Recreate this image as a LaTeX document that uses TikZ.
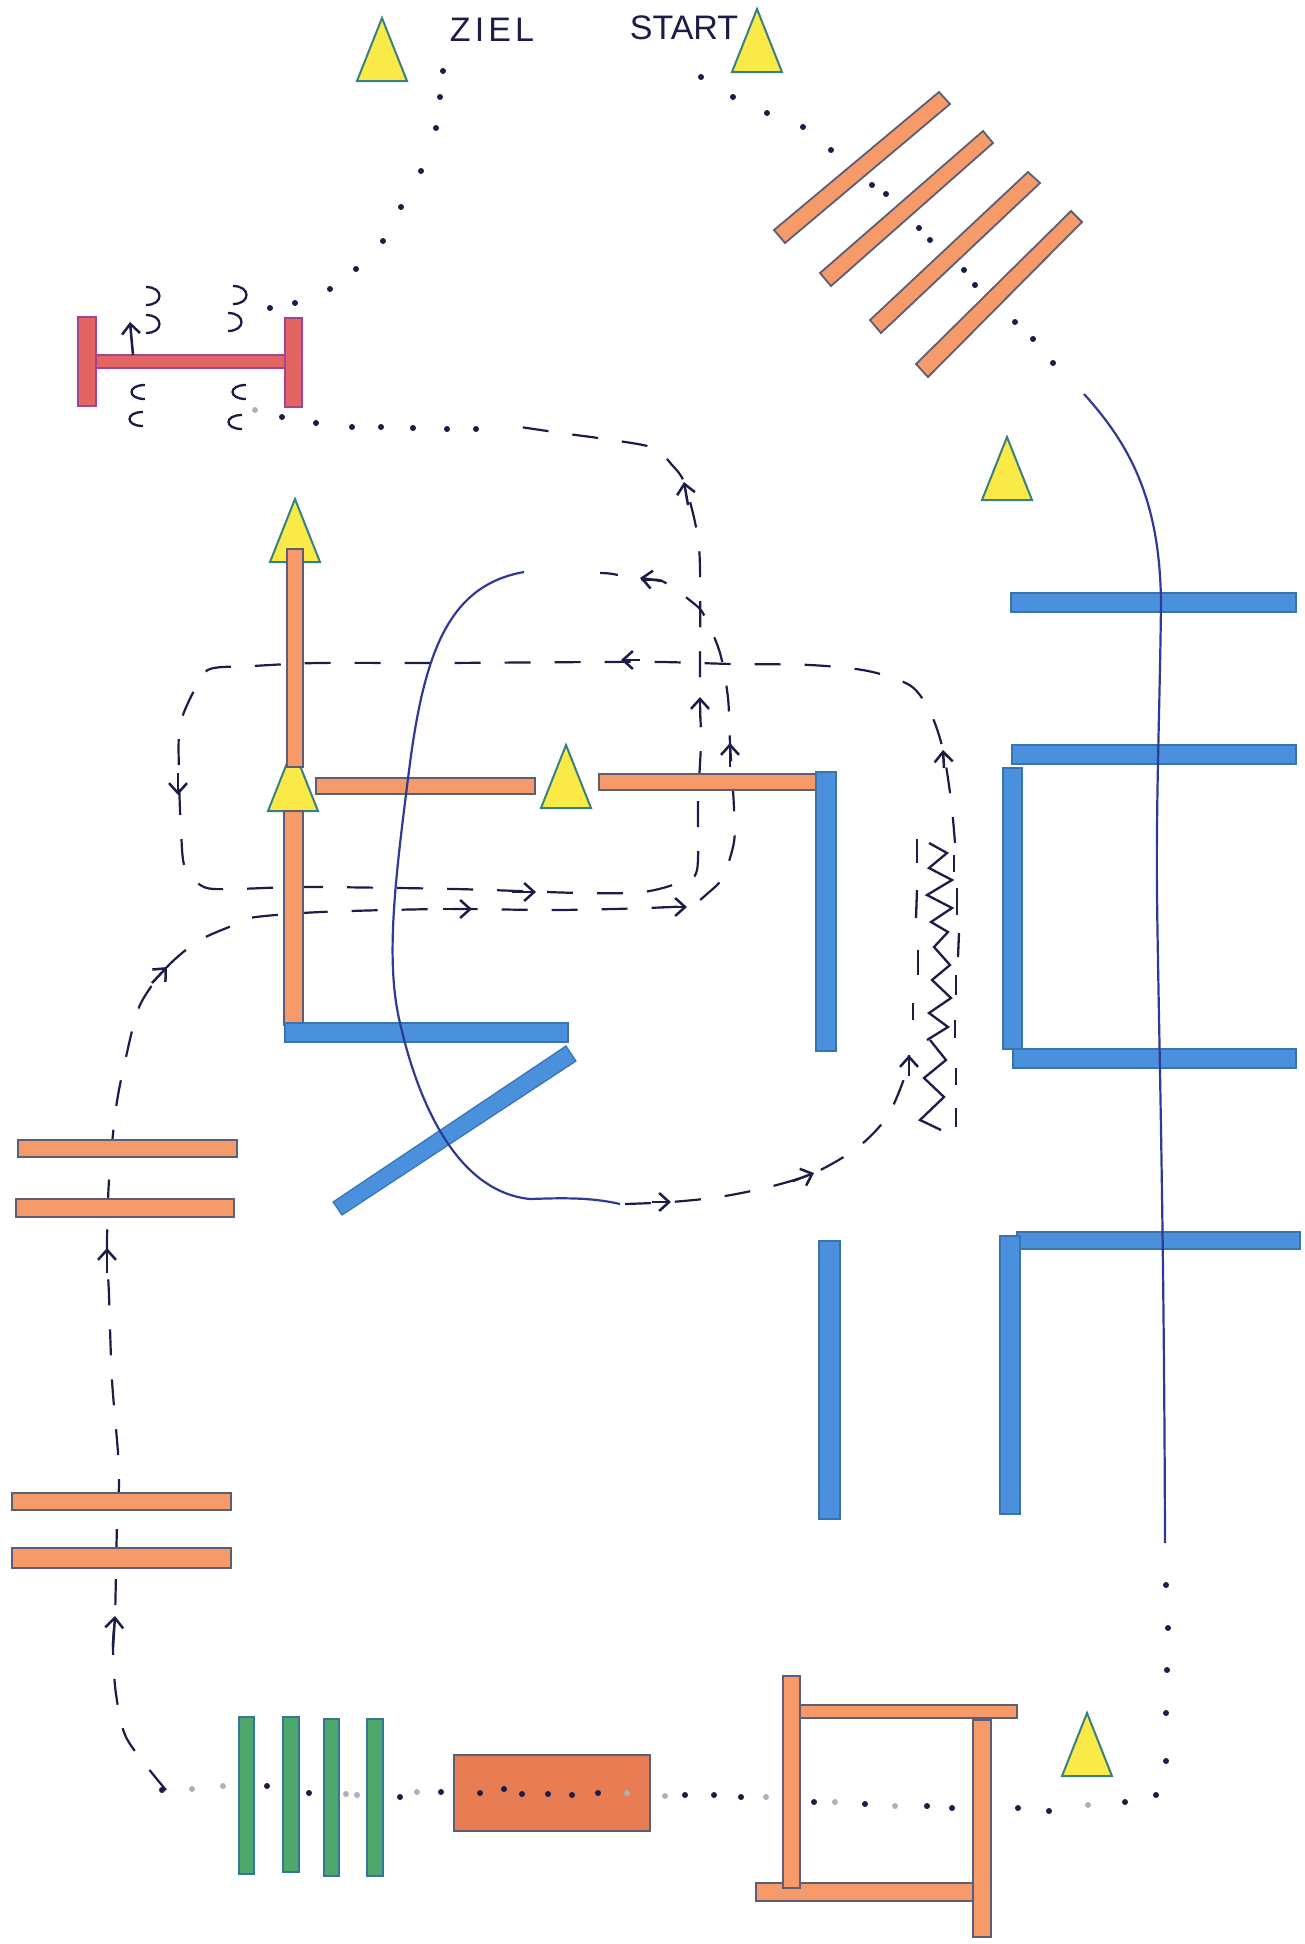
\documentclass[tikz,border=0pt]{standalone}
\usepackage{fontspec}
\usetikzlibrary{arrows.meta}
\newfontfamily\pencilfont{Liberation Sans}
\newfontfamily\pencilwide[LetterSpace=12]{Liberation Sans}
\definecolor{inkblue}{RGB}{28,28,72}
\definecolor{lineblue}{RGB}{48,58,150}
\definecolor{bargray}{RGB}{92,94,118}
\definecolor{barorange}{RGB}{245,154,104}
\definecolor{barblue}{RGB}{74,144,220}
\definecolor{bargreen}{RGB}{78,168,108}
\definecolor{barred}{RGB}{228,100,100}
\definecolor{boxorange}{RGB}{232,124,82}
\definecolor{coneyellow}{RGB}{249,234,72}
\tikzset{
    orangebar/.style={draw=bargray,line width=.9pt,fill=barorange},
    bluebar/.style={draw=barblue!80!black,line width=.6pt,fill=barblue},
    greenbar/.style={draw=bargreen!70!blue,line width=.8pt,fill=bargreen},
    redbar/.style={draw=barred!70!blue,line width=.6pt,fill=barred},
    cone/.style={draw=teal!55!gray,line width=1pt,fill=coneyellow},
    route/.style={inkblue,line width=1.1pt,dash pattern=on 13pt off 12pt},
    tick/.style={inkblue,line width=1.15pt},
    pointer/.style={inkblue,line width=1.25pt,->},
    solidline/.style={lineblue,line width=1.1pt},
    label/.style={text=inkblue,inner sep=0pt}
}
\begin{document}
\begin{tikzpicture}[x=.5pt,y=-.5pt,>={Straight Barb[length=5pt,width=9pt]}]
        \useasboundingbox (0,0) rectangle (1305,1944);

        % dashed routes
        \draw[route] plot[smooth] coordinates {(166,1790) (127,1739) (116,1694) (113,1647) (115,1616) (116,1573) (117,1524) (119,1469) (112,1380) (109,1295) (107,1248) (109,1180) (116,1108) (126,1057) (140,1005) (167,967) (200,940) (242,922) (256,917) (321,912) (443,909) (555,910) (646,908) (690,905) (708,893) (723,877) (734,842) (734,808) (730,743) (728,698) (720,653) (704,615) (692,602) (662,581) (640,580) (613,574) (600,573)};
        \draw[route] plot[smooth] coordinates {(955,843) (951,800) (943,750) (931,714) (911,686) (868,671) (810,665) (733,664) (662,662) (597,662) (440,663) (318,663) (253,666) (210,669) (196,687) (180,725) (179,775) (181,830) (185,868) (204,887) (234,889) (306,887) (455,889) (581,893) (643,892) (681,882) (697,870) (698,802) (701,742) (700,697) (700,568) (696,527) (684,482) (672,465) (654,448) (612,440) (561,433) (507,425)};
        \draw[route] plot[smooth] coordinates {(625,1204) (671,1202) (719,1197) (769,1187) (814,1173) (857,1148) (887,1117) (905,1076) (909,1055)};
        \foreach \xa/\ya/\xb/\yb in {917/839/917/863,917/890/916/918,918/950/918/975,913/1003/913/1020,954/855/954/872,957/888/957/915,959/933/958/957,956/975/956/995,955/1020/955/1038,956/1068/956/1085,956/1108/956/1127}
            \draw[tick] (\xa,\ya) -- (\xb,\yb);
        \draw[tick] plot coordinates {(929,843) (947,853) (929,868) (952,880) (927,895) (952,908) (931,922) (948,932) (934,947) (950,965) (932,980) (951,998) (929,1013) (948,1027) (927,1040)};
        \draw[tick] plot coordinates {(930,1040) (946,1060) (924,1078) (944,1097) (920,1120) (941,1130)};

        % stitches at the lifting bar
        \foreach \x/\y in {154/296,154/324,241/295,236/322}
            \draw[tick] (\x-8,\y-9) .. controls (\x+10,\y-9) and (\x+10,\y+9) .. (\x-8,\y+9);
        \foreach \x/\y in {137/392,135/419,238/392,234/422}
            \draw[tick] (\x+8,\y-7) .. controls (\x-10,\y-7) and (\x-10,\y+7) .. (\x+8,\y+7);

        % cones
        \foreach \x/\y in {382/81,757/72,1007/500,295/562,293/811,566/808,1087/1776}
            \draw[cone] (\x-25,\y) -- (\x,\y-63) -- (\x+25,\y) -- cycle;

        % bars
        \foreach \xa/\ya/\xb/\yb in {287/549/303/767,284/811/303/1025,316/778/535/794,599/774/817/790,18/1140/237/1157,16/1199/234/1217,12/1493/231/1510,12/1548/231/1568,800/1705/1017/1718,756/1883/973/1901,783/1676/800/1888,973/1720/991/1937}
            \draw[orangebar] (\xa,\ya) rectangle (\xb,\yb);
        \draw[orangebar] (939,92) -- (950,104) -- (785,243) -- (774,230) -- cycle;
        \draw[orangebar] (983,131) -- (993,143) -- (831,286) -- (820,273) -- cycle;
        \draw[orangebar] (1028,172) -- (1040,183) -- (881,333) -- (870,320) -- cycle;
        \draw[orangebar] (1071,211) -- (1082,222) -- (928,377) -- (916,364) -- cycle;
        \foreach \xa/\ya/\xb/\yb in {285/1023/568/1042,816/772/836/1051,1011/593/1296/612,1012/745/1296/764,1013/1049/1296/1068,1003/768/1022/1049,819/1241/840/1519,1017/1232/1300/1249,1000/1236/1020/1514}
            \draw[bluebar] (\xa,\ya) rectangle (\xb,\yb);
        \draw[bluebar] (566,1046) -- (576,1061) -- (342,1215) -- (333,1202) -- cycle;
        \foreach \xa/\xb/\ya/\yb in {239/254/1717/1874,283/299/1717/1872,324/339/1719/1876,367/383/1719/1876}
            \draw[greenbar] (\xa,\ya) rectangle (\xb,\yb);
        \draw[draw=bargray,line width=1.2pt,fill=boxorange] (454,1755) rectangle (650,1831);
        \draw[redbar] (96,355) rectangle (285,368);
        \draw[redbar] (78,317) rectangle (96,406);
        \draw[redbar] (285,318) rectangle (302,407);

        % solid lines
        \draw[solidline] (1084,394) .. controls (1130,445) and (1160,500) .. (1161,603) .. controls (1160,700) and (1156,800) .. (1157,893) .. controls (1158,1000) and (1164,1200) .. (1165,1543);
        \draw[solidline] (524,572) .. controls (450,585) and (425,650) .. (410,763) .. controls (395,880) and (385,960) .. (400,1023) .. controls (420,1110) and (460,1192) .. (530,1199) .. controls (560,1198) and (590,1197) .. (620,1204);

        % dotted routes
        \foreach \x/\y in {443/71,440/97,436/128,421/171,401/207,383/241,356/269,330/289,295/303,270/308,282/417,316/423,352/427,381/427,413/428,447/429,476/429,701/77,733/97,767/113,803/127,831/150,872/185,886/194,919/228,930/240,964/270,975/285,1015/322,1033/339,1053/363,1166/1585,1168/1628,1167/1670,1166/1713,1166/1761,1156/1795,1125/1802,1049/1811,1018/1808,952/1808,927/1806,865/1804,814/1802,741/1797,714/1795,685/1795,598/1793,572/1795,548/1794,522/1794,504/1789,480/1793,441/1792,400/1797,309/1793,267/1786,162/1790}
            \fill[inkblue] (\x,\y) circle (3);
        \foreach \x/\y in {255/410,192/1789,223/1786,346/1794,357/1795,417/1792,627/1793,665/1796,766/1797,835/1802,895/1806,1088/1805}
            \fill[inkblue!35] (\x,\y) circle (3);

        % arrows
        \foreach \xa/\ya/\xb/\yb in {133/355/130/322,688/505/684/482,662/581/640/578,700/718/700/697,730/767/730/743,944/768/943/750,640/660/621/660,178/773/178/795,512/892/536/892,443/909/472/909,662/907/687/907,152/983/167/967,107/1273/107/1248,113/1647/115/1616,652/1202/671/1202,793/1181/814/1173,909/1076/909/1055}
            \draw[pointer] (\xa,\ya) -- (\xb,\yb);

        \node[label,font=\pencilwide\fontsize{17}{17}\selectfont] (ziel) at (492,30) {ZIEL};
        \node[label,font=\pencilfont\fontsize{17}{17}\selectfont] (start) at (684,28) {START};
    \end{tikzpicture}
\end{document}
